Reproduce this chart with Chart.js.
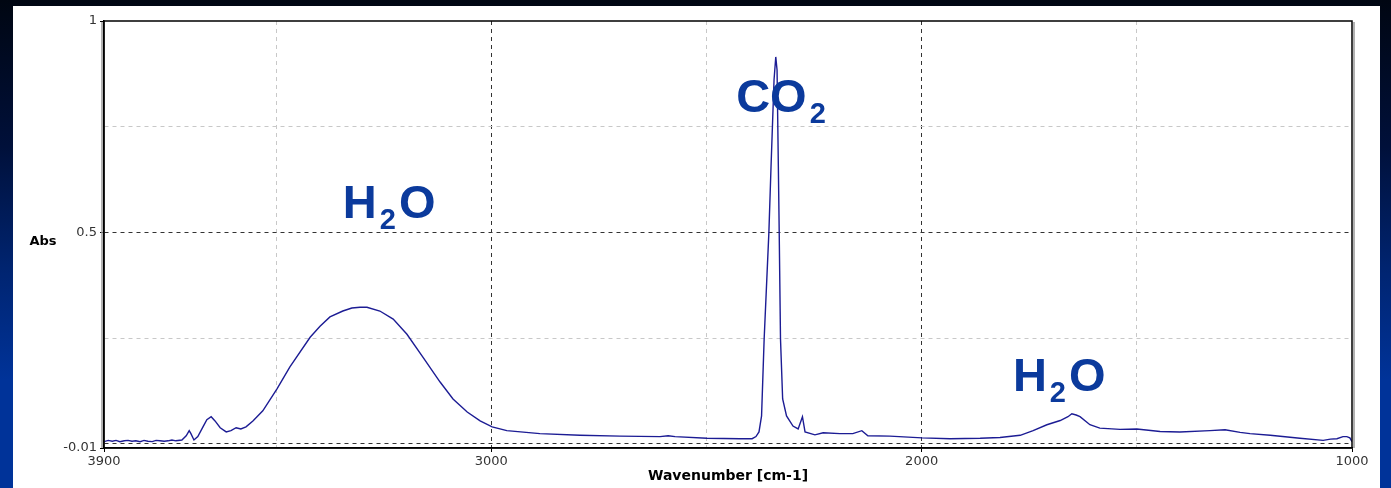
<!DOCTYPE html>
<html>
<head>
<meta charset="utf-8">
<script src="https://cdn.jsdelivr.net/npm/chart.js@4/dist/chart.umd.min.js"></script>
<style>
  html, body { margin: 0; padding: 0; }
  body {
    width: 1391px; height: 488px; overflow: hidden; position: relative;
    background: linear-gradient(to bottom, #000612 0%, #00103a 30%, #002470 55%, #003399 78%, #003399 100%);
  }
  #panel { position: absolute; left: 13px; top: 6px; width: 1367px; height: 482px; background: #fff; }
  #wrap { position: absolute; left: 0; top: 0; width: 1391px; height: 488px; }
</style>
</head>
<body>
<div id="panel"></div>
<div id="wrap"><canvas id="spectrum"></canvas></div>
<script>
// Spectrum: wavenumber [cm-1] and absorbance
const wavenumbers = [3900, 3890, 3881, 3872, 3863, 3853, 3844, 3835, 3826, 3816, 3807, 3798, 3788, 3779, 3770, 3760, 3751, 3742, 3733, 3719,
  3709, 3702, 3698, 3691, 3682, 3670, 3661, 3651, 3642, 3630, 3616, 3605, 3593, 3582, 3570, 3554, 3531, 3498, 3468, 3421,
  3398, 3375, 3345, 3324, 3305, 3289, 3259, 3228, 3196, 3159, 3119, 3089, 3056, 3026, 2998, 2964, 2887, 2794, 2701, 2608,
  2589, 2573, 2499, 2422, 2394, 2385, 2378, 2372, 2366, 2355, 2350, 2343, 2339, 2336, 2333, 2331, 2328, 2323, 2314, 2299,
  2287, 2277, 2271, 2248, 2229, 2190, 2160, 2139, 2125, 2074, 1999, 1934, 1864, 1818, 1771, 1741, 1709, 1678, 1660, 1651,
  1641, 1632, 1609, 1586, 1539, 1500, 1446, 1400, 1330, 1295, 1260, 1237, 1190, 1121, 1067, 1050, 1035, 1021, 1012, 1005, 1000];
const absorbance = [0.005, 0.008, 0.006, 0.008, 0.005, 0.007, 0.008, 0.006, 0.007, 0.005, 0.008, 0.006, 0.005, 0.008, 0.007, 0.006, 0.007, 0.009, 0.007, 0.009,
  0.019, 0.031, 0.024, 0.009, 0.017, 0.040, 0.057, 0.064, 0.054, 0.038, 0.028, 0.031, 0.038, 0.035, 0.040, 0.054, 0.078, 0.130, 0.182, 0.252,
  0.278, 0.300, 0.314, 0.321, 0.323, 0.323, 0.314, 0.295, 0.259, 0.205, 0.146, 0.106, 0.075, 0.054, 0.040, 0.031, 0.024, 0.020, 0.018, 0.017,
  0.019, 0.017, 0.013, 0.012, 0.012, 0.017, 0.028, 0.066, 0.248, 0.500, 0.656, 0.861, 0.915, 0.884, 0.656, 0.500, 0.248, 0.106, 0.066, 0.042,
  0.035, 0.064, 0.028, 0.021, 0.026, 0.024, 0.024, 0.031, 0.019, 0.018, 0.014, 0.012, 0.013, 0.015, 0.020, 0.031, 0.045, 0.055, 0.064, 0.071,
  0.068, 0.064, 0.045, 0.037, 0.034, 0.035, 0.029, 0.028, 0.031, 0.033, 0.027, 0.024, 0.020, 0.013, 0.008, 0.011, 0.012, 0.017, 0.017, 0.014, 0.005];

const xTicks = [3900, 3500, 3000, 2500, 2000, 1500, 1000];
const xLabelled = [3900, 3000, 2000, 1000];
const xDark = [3000, 2000];
const yTicks = [-0.01, 0, 0.25, 0.5, 0.75, 1];
const yLabelled = [-0.01, 0.5, 1];
const yDark = [0, 0.5];

// band labels: main text, subscript, trailing text, anchor (wavenumber, absorbance at baseline)
const bandLabels = [
  { pre: "H", sub: "2", post: "O", w: 3345, a: 0.535 },
  { pre: "CO", sub: "2", post: "", w: 2431, a: 0.785 },
  { pre: "H", sub: "2", post: "O", w: 1788, a: 0.125 }
];

const FONT = "'Liberation Sans', Arial, sans-serif";
const TICK_FONT = "'DejaVu Sans', Verdana, sans-serif";

function gridColor(v, dark, edges) {
  if (edges.includes(v)) return "rgba(0,0,0,0)";
  return dark.includes(v) ? "#333" : "#c8c8c8";
}

// frame, "Abs" label and band labels
const extras = {
  id: "extras",
  afterDraw(chart) {
    const ctx = chart.ctx;
    const a = chart.chartArea;
    const xs = chart.scales.x, ys = chart.scales.y;
    ctx.save();
    ctx.strokeStyle = "#999";
    ctx.lineWidth = 1.5;
    ctx.beginPath();
    ctx.moveTo(a.right + 2, a.top + 1);
    ctx.lineTo(a.right + 2, a.bottom);
    ctx.moveTo(a.left - 2, a.top + 1);
    ctx.lineTo(a.left - 2, a.bottom);
    ctx.stroke();
    ctx.strokeStyle = "#000";
    ctx.lineWidth = 1.5;
    ctx.strokeRect(a.left, a.top, a.right - a.left, a.bottom - a.top);

    ctx.fillStyle = "#000";
    ctx.font = "bold 13px " + TICK_FONT;
    ctx.textAlign = "center";
    ctx.textBaseline = "middle";
    ctx.fillText("Abs", 43, ys.getPixelForValue(0.5) + 9);

    ctx.fillStyle = "#0b3a9c";
    ctx.textAlign = "left";
    ctx.textBaseline = "alphabetic";
    bandLabels.forEach(l => {
      let x = xs.getPixelForValue(l.w);
      const y = ys.getPixelForValue(l.a);
      ctx.font = "bold 47px " + FONT;
      ctx.fillText(l.pre, x, y);
      x += ctx.measureText(l.pre).width + 3;
      ctx.font = "bold 29px " + FONT;
      ctx.fillText(l.sub, x, y + 11);
      x += ctx.measureText(l.sub).width + 3;
      if (l.post) {
        ctx.font = "bold 47px " + FONT;
        ctx.fillText(l.post, x, y);
      }
    });
    ctx.restore();
  }
};

new Chart(document.getElementById("spectrum"), {
  type: "scatter",
  data: {
    datasets: [{
      data: wavenumbers.map((w, i) => ({ x: w, y: absorbance[i] })),
      showLine: true,
      borderColor: "#1c1c94",
      borderWidth: 1.4,
      pointRadius: 0,
      tension: 0
    }]
  },
  options: {
    responsive: true,
    maintainAspectRatio: false,
    animation: false,
    layout: { padding: { left: 14, top: 21, right: 39, bottom: 0 } },
    plugins: { legend: { display: false }, tooltip: { enabled: false } },
    scales: {
      x: {
        type: "linear",
        reverse: true,
        min: 1000,
        max: 3900,
        afterBuildTicks: s => { s.ticks = xTicks.map(v => ({ value: v })); },
        afterFit: s => { s.height = 40; },
        ticks: {
          autoSkip: false,
          maxRotation: 0,
          padding: 2,
          color: "#333",
          font: { family: TICK_FONT, size: 13 },
          callback: v => xLabelled.includes(v) ? String(v) : ""
        },
        grid: {
          color: c => gridColor(c.tick.value, xDark, [3900, 1000]),
          tickColor: c => xLabelled.includes(c.tick.value) ? "#000" : "rgba(0,0,0,0)",
          tickLength: 4,
          lineWidth: 1
        },
        border: { display: true, color: "#000", width: 1.5, dash: [4, 4] },
        title: {
          display: true,
          text: "Wavenumber [cm-1]",
          color: "#000",
          font: { family: TICK_FONT, size: 14, weight: "bold" },
          padding: { top: 0, bottom: 3 }
        }
      },
      y: {
        min: -0.01,
        max: 1,
        afterBuildTicks: s => { s.ticks = yTicks.map(v => ({ value: v })); },
        afterFit: s => { s.width = 90; },
        ticks: {
          autoSkip: false,
          padding: 3,
          color: "#333",
          font: { family: TICK_FONT, size: 13 },
          callback: v => yLabelled.includes(v) ? String(v) : ""
        },
        grid: {
          color: c => gridColor(c.tick.value, yDark, [-0.01, 1]),
          tickColor: c => yLabelled.includes(c.tick.value) ? "#000" : "rgba(0,0,0,0)",
          tickLength: 4,
          lineWidth: 1
        },
        border: { display: true, color: "#000", width: 1.5, dash: [4, 4] }
      }
    }
  },
  plugins: [extras]
});
</script>
</body>
</html>
